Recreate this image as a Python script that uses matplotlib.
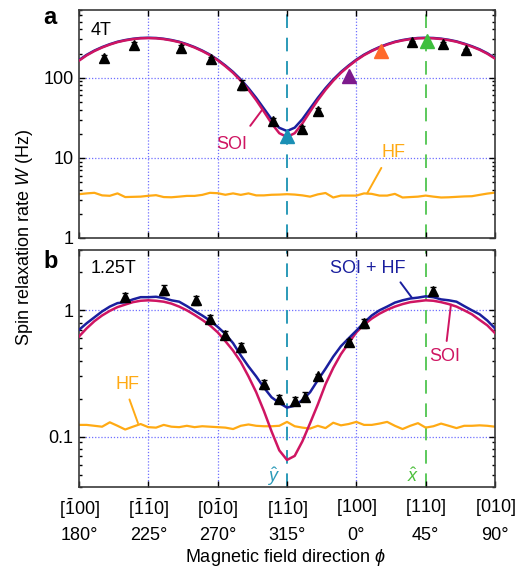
"""Spin relaxation rate vs magnetic field direction, 4T and 1.25T panels."""

import numpy as np
import matplotlib
matplotlib.use("Agg")
import matplotlib.pyplot as plt
from matplotlib.ticker import LogLocator, NullFormatter, NullLocator

plt.rcParams['font.family'] = ['Liberation Sans', 'DejaVu Sans']
plt.rcParams['mathtext.fontset'] = 'custom'
plt.rcParams['mathtext.rm'] = 'Liberation Sans'
plt.rcParams['mathtext.it'] = 'Liberation Sans:italic'
plt.rcParams['font.size'] = 13

CRIMSON = '#cf1562'
NAVY = '#1a1f9e'
ORANGE = '#ffaa14'
GRID = '#6f6fff'
TEAL = '#2b9ab8'
GREEN = '#5cc95c'

# field angle in degrees, unwrapped: 360 = 0 deg, 450 = 90 deg
PHI_CURVE = np.arange(180, 451, 5)

# --- panel a, 4T ---
SOI_A = [163, 190, 215, 238, 259, 278, 292, 303, 310, 312,
         310, 303, 292, 278, 259, 238, 215, 191, 165,
         139, 115, 91.6, 70.6, 52.5, 37.8, 26.9, 20.3, 18.2,
         20.3, 26.9, 37.8, 52.5, 70.6, 91.6, 115, 139, 165,
         191, 215, 238, 259, 278, 292, 303, 310, 312,
         310, 304, 294, 281, 263, 244, 223, 199, 173]
SOIHF_A = [166, 193, 218, 241, 262, 281, 295, 306, 313, 315,
           313, 306, 295, 281, 262, 241, 218, 194, 168,
           142, 118, 95, 74, 56, 41.2, 30.3, 23.7, 21.6,
           23.8, 30.4, 41.3, 56, 74, 95, 118, 142, 168,
           194, 218, 241, 262, 281, 295, 306, 313, 315,
           313, 307, 297, 284, 266, 247, 226, 202, 176]
HF_A = [3.52, 3.60, 3.66, 3.40, 3.36, 3.60, 3.24, 3.26, 3.28, 3.36,
        3.42, 3.24, 3.22, 3.28, 3.35, 3.35, 3.45, 3.66, 3.62, 3.46,
        3.60, 3.45, 3.60, 3.40, 3.40, 3.46, 3.48, 3.52, 3.48, 3.40,
        3.28, 3.50, 3.64, 3.20, 3.38, 3.38, 3.38, 3.60, 3.55, 3.38,
        3.38, 3.55, 3.20, 3.24, 3.28, 3.38, 3.28, 3.20, 3.22, 3.26,
        3.30, 3.32, 3.45, 3.58, 3.68]

PHI_A = [196, 216, 246, 266, 286, 306, 325, 335, 396, 416, 431]
W_A = [178, 258, 237, 173, 82, 29, 22.8, 38, 276, 266, 219]
ERR_A = [14, 20, 18, 8, 12, 2, 2, 4, 12, 12, 10]

PHI_COLOR = [315, 355, 376, 406]
W_COLOR = [18.5, 106, 213, 284]
COLOR_MARKERS = ['#1a8fb5', '#7d1a8c', '#ff6a2b', '#3dbf3d']

# --- panel b, 1.25T ---
SOI_B = [0.62, 0.72, 0.82, 0.91, 0.99, 1.06, 1.11, 1.16, 1.19, 1.20,
         1.19, 1.17, 1.13, 1.07, 1.00, 0.92, 0.84, 0.76, 0.67,
         0.57, 0.48, 0.39, 0.30, 0.225, 0.16, 0.11, 0.078, 0.0655,
         0.0705, 0.092, 0.128, 0.18, 0.26, 0.35, 0.45, 0.55, 0.67,
         0.77, 0.86, 0.94, 1.01, 1.07, 1.12, 1.16, 1.18, 1.20,
         1.19, 1.16, 1.12, 1.07, 1.00, 0.93, 0.84, 0.76, 0.66]
SOIHF_B = [0.70, 0.79, 0.88, 0.98, 1.07, 1.14, 1.16, 1.22, 1.27, 1.27,
           1.28, 1.25, 1.20, 1.17, 1.08, 0.99, 0.91, 0.83, 0.74,
           0.65, 0.55, 0.44, 0.36, 0.30, 0.245, 0.205, 0.185, 0.170,
           0.176, 0.195, 0.225, 0.28, 0.345, 0.43, 0.52, 0.60, 0.69,
           0.80, 0.91, 1.00, 1.07, 1.15, 1.20, 1.24, 1.26, 1.29,
           1.27, 1.22, 1.20, 1.17, 1.08, 1.00, 0.93, 0.83, 0.72]
HF_B = [0.124, 0.124, 0.122, 0.120, 0.130, 0.122, 0.114, 0.120, 0.126, 0.119,
        0.118, 0.124, 0.120, 0.119, 0.122, 0.119, 0.121, 0.120, 0.119, 0.118,
        0.115, 0.122, 0.125, 0.122, 0.121, 0.121, 0.122, 0.131, 0.121, 0.118,
        0.116, 0.122, 0.117, 0.129, 0.123, 0.126, 0.131, 0.124, 0.124, 0.127,
        0.131, 0.122, 0.115, 0.122, 0.128, 0.118, 0.121, 0.127, 0.122, 0.117,
        0.122, 0.122, 0.123, 0.122, 0.120]

PHI_B = [210, 235, 256, 265, 275, 285, 300, 310, 320, 327, 335, 355, 365, 410]
W_B = [1.28, 1.46, 1.20, 0.86, 0.64, 0.51, 0.26, 0.20, 0.193, 0.207, 0.30, 0.56, 0.79, 1.43]
ERR_B = [0.08, 0.13, 0.10, 0.05, 0.04, 0.04, 0.02, 0.013, 0.015, 0.017, 0.015, 0.03, 0.06, 0.10]

ANGLE_TICKS = [180, 225, 270, 315, 360, 405, 450]
DIR_LABELS = [r'$\mathregular{[\bar{1}00]}$', r'$\mathregular{[\bar{1}\bar{1}0]}$',
              r'$\mathregular{[0\bar{1}0]}$', r'$\mathregular{[1\bar{1}0]}$',
              r'$\mathregular{[100]}$', r'$\mathregular{[110]}$', r'$\mathregular{[010]}$']
DEG_LABELS = ['180°', '225°', '270°', '315°', '0°', '45°', '90°']
GRID_X = [225, 270, 360]


def styleAxes(ax, ylim, yticks, ylabels, grid_y):
    """Log axis with inward ticks and dotted grid."""
    ax.set_yscale('log')
    ax.set_xlim(180, 450)
    ax.set_ylim(*ylim)
    ax.set_xticks(ANGLE_TICKS)
    ax.xaxis.set_minor_locator(NullLocator())
    ax.set_yticks(yticks)
    ax.set_yticklabels(ylabels)
    ax.yaxis.set_minor_locator(LogLocator(base=10, subs=range(2, 10)))
    ax.yaxis.set_minor_formatter(NullFormatter())
    ax.tick_params(which='both', direction='in', top=True, right=True, width=1.0)
    ax.tick_params(which='major', length=4, pad=4)
    ax.tick_params(which='minor', length=2.5)
    for s in ax.spines.values():
        s.set_color('#3a3a3a')
        s.set_linewidth(1.2)
    for gx in GRID_X:
        ax.axvline(gx, color=GRID, lw=0.9, ls=(0, (1, 1.5)), zorder=0)
    for gy in grid_y:
        ax.axhline(gy, color=GRID, lw=0.9, ls=(0, (1, 1.5)), zorder=0)
    ax.axvline(315, color=TEAL, lw=1.4, ls=(0, (7, 5)), zorder=1)
    ax.axvline(405, color=GREEN, lw=1.4, ls=(0, (7, 5)), zorder=1)


fig = plt.figure(figsize=(5.22, 5.70), dpi=100)
ax_a = fig.add_axes([0.1513, 0.5825, 0.797, 0.400])
ax_b = fig.add_axes([0.1513, 0.1456, 0.797, 0.4158])

styleAxes(ax_a, (1, 700), [1, 10, 100], ['1', '10', '100'], [10, 100])
styleAxes(ax_b, (0.04, 3), [0.1, 1], ['0.1', '1'], [0.1, 1])
ax_a.set_xticklabels([])
ax_b.set_xticklabels(DIR_LABELS)
ax_b.tick_params(axis='x', which='major', pad=7)

# panel a
ax_a.plot(PHI_CURVE, HF_A, color=ORANGE, lw=1.6, zorder=2)
ax_a.plot(PHI_CURVE, SOIHF_A, color=NAVY, lw=1.8, zorder=3)
ax_a.plot(PHI_CURVE, SOI_A, color=CRIMSON, lw=1.8, zorder=4)
ax_a.errorbar(PHI_A, W_A, yerr=ERR_A, fmt='^', color='black', ms=7,
              elinewidth=1.2, capsize=2.5, zorder=5)
for p, w, c in zip(PHI_COLOR, W_COLOR, COLOR_MARKERS):
    ax_a.plot(p, w, marker='^', ms=10, color=c, ls='none', zorder=6)

# panel b
ax_b.plot(PHI_CURVE, HF_B, color=ORANGE, lw=1.6, zorder=2)
ax_b.plot(PHI_CURVE, SOI_B, color=CRIMSON, lw=1.8, zorder=3)
ax_b.plot(PHI_CURVE, SOIHF_B, color=NAVY, lw=1.8, zorder=4)
ax_b.errorbar(PHI_B, W_B, yerr=ERR_B, fmt='^', color='black', ms=7,
              elinewidth=1.2, capsize=2.5, zorder=5)

# curve labels with leader lines
def leader(ax, text, xy, xytext, color, relpos, shrink=3):
    ax.annotate(text, xy=xy, xytext=xytext, color=color, ha='center', va='center',
                arrowprops=dict(arrowstyle='-', color=color, lw=1.4,
                                shrinkA=shrink, shrinkB=0, relpos=relpos), zorder=7)

leader(ax_a, 'SOI', (299, 40), (279, 14.5), CRIMSON, (0.85, 1.0), shrink=7)
leader(ax_a, 'HF', (367, 3.6), (384, 11.5), ORANGE, (0.15, 0.0))
leader(ax_b, 'SOI + HF', (396, 1.26), (367.6, 2.13), NAVY, (0.88, 0.0), shrink=2)
leader(ax_b, 'SOI', (421.4, 1.11), (417.5, 0.432), CRIMSON, (0.53, 1.0))
leader(ax_b, 'HF', (218.3, 0.128), (211.2, 0.26), ORANGE, (0.5, 0.0))

ax_a.text(0.028, 0.912, '4T', transform=ax_a.transAxes, va='center')
ax_b.text(0.028, 0.92, '1.25T', transform=ax_b.transAxes, va='center')

xt = ax_b.get_xaxis_transform()
ax_b.text(306, 0.045, r'$\hat{y}$', transform=xt, color=TEAL, ha='center', va='center')
ax_b.text(397, 0.045, r'$\hat{x}$', transform=xt, color='#4cbf3c', ha='center', va='center')
for a, lab in zip(ANGLE_TICKS, DEG_LABELS):
    ax_b.text(a, -0.2025, lab, transform=xt, ha='center', va='center', clip_on=False)

fig.text(285 / 522, 1 - 558 / 570, r'Magnetic field direction $\phi$', ha='center', va='center')
fig.text(25 / 522, 1 - 238 / 570, r'Spin relaxation rate $W$ (Hz)', rotation=90,
         ha='center', va='center')
fig.text(43 / 522, 1 - 17 / 570, 'a', fontsize=17, fontweight='bold', va='center')
fig.text(43 / 522, 1 - 262 / 570, 'b', fontsize=17, fontweight='bold', va='center')

fig.savefig('out.png', dpi=100)
